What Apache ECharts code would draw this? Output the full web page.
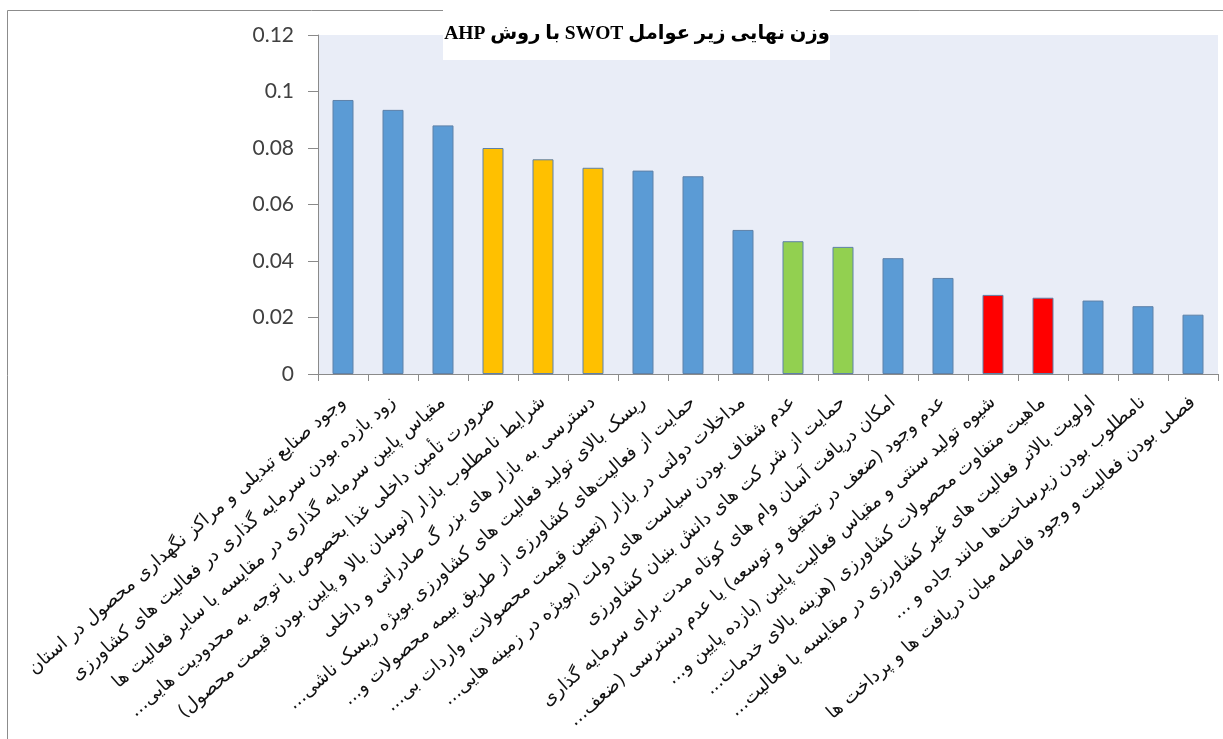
<!DOCTYPE html>
<html>
<head>
<meta charset="utf-8">
<script src="https://cdn.jsdelivr.net/npm/echarts@6/dist/echarts.min.js"></script>
<style>
  html, body { margin: 0; padding: 0; background: #ffffff; }
  #chart { width: 1223px; height: 739px; direction: rtl; }
</style>
</head>
<body>
<div id="chart" dir="rtl"></div>
<script>
// Final weights of the SWOT sub-factors (AHP)
const chartTitle = 'وزن نهایی زیر عوامل SWOT با روش AHP';

const categories = [
  'وجود صنایع تبدیلی و مراکز نگهداری محصول در استان',
  'زود بازده بودن سرمایه گذاری در فعالیت های کشاورزی',
  'مقیاس پایین سرمایه گذاری در مقایسه با سایر فعالیت ها',
  'ضرورت تأمین داخلی غذا بخصوص با توجه به محدودیت هایی...',
  'شرایط نامطلوب بازار (نوسان بالا و پایین بودن قیمت محصول)',
  'دسترسی به بازار های بزر گ صادراتی و داخلی',
  'ریسک بالای تولید فعالیت های کشاورزی بویژه ریسک ناشی...',
  'حمایت از فعالیت‌های کشاورزی از طریق بیمه محصولات و...',
  'مداخلات دولتی در بازار (تعیین قیمت محصولات، واردات بی...',
  'عدم شفاف بودن سیاست های دولت (بویژه در زمینه هایی...',
  'حمایت از شر کت های دانش بنیان کشاورزی',
  'امکان دریافت آسان وام های کوتاه مدت برای سرمایه گذاری',
  'عدم وجود (ضعف در تحقیق و توسعه) یا عدم دسترسی (ضعف...',
  'شیوه تولید سنتی و مقیاس فعالیت پایین (بازده پایین و...',
  'ماهیت متفاوت محصولات کشاورزی (هزینه بالای خدمات...',
  'اولویت بالاتر فعالیت های غیر کشاورزی در مقایسه با فعالیت...',
  'نامطلوب بودن زیرساخت‌ها مانند جاده و ...',
  'فصلی بودن فعالیت و وجود فاصله میان دریافت ها و پرداخت ها'
];

const weights = [
  0.097, 0.0935, 0.088, 0.080, 0.076, 0.073, 0.072, 0.070, 0.051,
  0.047, 0.045, 0.041, 0.034, 0.028, 0.027, 0.026, 0.024, 0.021
];

// group of each factor (decides the bar fill)
const groupOf = [
  'A', 'A', 'A', 'B', 'B', 'B', 'A', 'A', 'A',
  'C', 'C', 'A', 'A', 'D', 'D', 'A', 'A', 'A'
];

const yMin = 0;
const yMax = 0.12;
const yStep = 0.02;

const groupColor = { A: '#5B9BD5', B: '#FFC000', C: '#92D050', D: '#FF0000' };

const chart = echarts.init(document.getElementById('chart'), null, { renderer: 'canvas' });

chart.setOption({
  animation: false,
  backgroundColor: '#ffffff',
  grid: {
    left: 318, right: 5, top: 35, bottom: 365,
    show: true, backgroundColor: '#E9EDF7', borderWidth: 0
  },
  xAxis: {
    type: 'category',
    data: categories,
    axisLine: { show: true, lineStyle: { color: '#8A8A8A', width: 1 } },
    axisTick: { show: true, interval: 0, length: 7, lineStyle: { color: '#8A8A8A' } },
    axisLabel: {
      interval: 0, rotate: 41, margin: 26,
      fontSize: 18.5, fontFamily: '"DejaVu Sans", sans-serif', color: '#111111'
    },
    splitLine: { show: false }
  },
  yAxis: {
    type: 'value',
    min: yMin, max: yMax, interval: yStep,
    axisLine: { show: true, lineStyle: { color: '#8A8A8A', width: 1 } },
    axisTick: { show: true, length: 10, lineStyle: { color: '#8A8A8A' } },
    axisLabel: { margin: 24, fontSize: 21, fontFamily: 'Lato, sans-serif', color: '#404040' },
    splitLine: { show: false }
  },
  series: [{
    type: 'bar',
    barWidth: 21,
    data: weights.map((v, i) => ({ value: v, itemStyle: { color: groupColor[groupOf[i]] } })),
    itemStyle: { borderColor: '#5E81A8', borderWidth: 1 },
    emphasis: { disabled: true }
  }],
  graphic: [
    {
      type: 'rect', silent: true, z: 1,
      shape: { x: 7.5, y: 10.5, width: 1400, height: 900 },
      style: { fill: 'none', stroke: '#8C8C8C', lineWidth: 1 }
    },
    {
      type: 'rect', silent: true, z: 10,
      shape: { x: 443, y: 0, width: 387, height: 60 },
      style: { fill: '#ffffff' }
    },
    {
      type: 'text', silent: true, z: 11,
      x: 637, y: 34,
      style: {
        text: chartTitle,
        font: 'bold 19.5px "Liberation Serif", "DejaVu Sans", serif',
        fill: '#000000',
        align: 'center', verticalAlign: 'middle'
      }
    }
  ]
});
</script>
</body>
</html>
